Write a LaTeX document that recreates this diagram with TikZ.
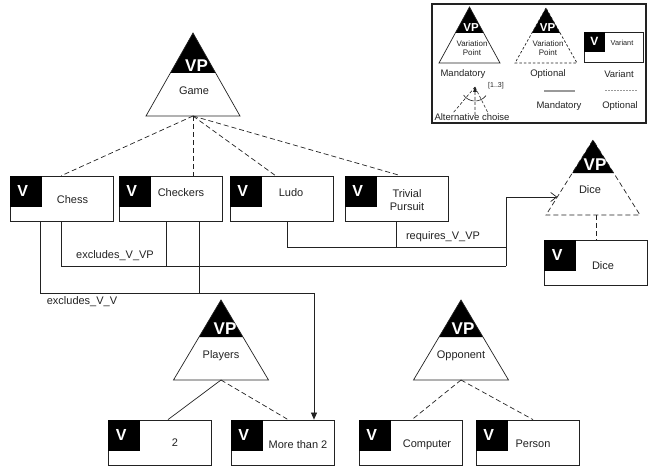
\documentclass[tikz,border=0pt]{standalone}
\usepackage{fontspec}
\setmainfont{Liberation Sans}
\usetikzlibrary{arrows.meta,calc}

\definecolor{ink}{HTML}{222222}
\definecolor{legendgray}{HTML}{999999}

% variation point: name, x, apex y, black y, base y, half width, outline style
\newcommand{\vptri}[7]{%
  \pgfmathsetmacro{\vpk}{#6*(#4-#3)/(#5-#3)}%
  \coordinate (#1-top) at (#2,#3);
  \coordinate (#1-bl) at ({#2-#6},#5);
  \coordinate (#1-br) at ({#2+#6},#5);
  \coordinate (#1-base) at (#2,#5);
  \fill[white] (#1-top) -- (#1-bl) -- (#1-br) -- cycle;
  \fill[black] (#1-top) -- ({#2-\vpk},#4) -- ({#2+\vpk},#4) -- cycle;
  \draw[#7] (#1-top) -- (#1-bl) -- (#1-br) -- cycle;
}

% variant: name, centre
\newcommand{\variantbox}[2]{%
  \node[vbox] (#1) at (#2) {};
  \node[vmark] (#1-v) at (#1.north west) {\hspace*{-6pt}V};
}

\begin{document}
\begin{tikzpicture}
  [x=1pt, y=-1pt,
   every node/.style={inner sep=0pt, text=ink},
   lbl/.style={font=\fontsize{11}{13}\selectfont, align=center},
   small/.style={font=\fontsize{9.5}{11}\selectfont},
   tiny/.style={font=\fontsize{8}{9}\selectfont, align=center},
   vp/.style={text=white, font=\bfseries\fontsize{17}{17}\selectfont},
   vpsmall/.style={text=white, font=\bfseries\fontsize{11.5}{11.5}\selectfont},
   vbox/.style={draw=ink, line width=0.8pt, fill=white, minimum width=103pt, minimum height=45pt},
   vmark/.style={fill=black, text=white, anchor=north west, minimum width=32pt, minimum height=31pt,
                 font=\bfseries\fontsize{16}{16}\selectfont},
   rel/.style={draw=ink, line width=0.7pt},
   opt/.style={draw=ink, line width=0.7pt, dash pattern=on 5pt off 3pt}]

  \useasboundingbox (0,0) rectangle (650,468);

  % legend
  \node[draw=ink, line width=1.2pt, minimum width=214pt, minimum height=119pt] (legend) at (539,63.5) {};
  \vptri{lman}{469.5}{7}{33}{63}{30.5}{rel}
  \vptri{lopt}{546}{8}{33}{63}{31}{draw=ink, line width=0.7pt, dash pattern=on 2.5pt off 2pt}
  \node[vpsmall] (lman-vp) at (471,28) {VP};
  \node[tiny] (lman-t) at (472,48) {Variation\\Point};
  \node[vpsmall] (lopt-vp) at (547.5,28) {VP};
  \node[tiny] (lopt-t) at (548,48) {Variation\\Point};
  \node[draw=ink, line width=0.8pt, fill=white, minimum width=59pt, minimum height=30pt] (lvar) at (613.5,47) {};
  \node[fill=black, text=white, anchor=north west, minimum width=21pt, minimum height=20pt,
        font=\bfseries\fontsize{12}{12}\selectfont] (lvar-v) at (lvar.north west) {V};
  \node[font=\fontsize{7.3}{8}\selectfont] (lvar-t) at (622,43) {Variant};
  \node[small] (lman-l) at (463,74) {Mandatory};
  \node[small] (lopt-l) at (548,74) {Optional};
  \node[small] (lvar-l) at (619,74) {Variant};
  \coordinate (alt) at (475,87);
  \coordinate (alt1) at (453,113);
  \coordinate (alt2) at (475,115);
  \coordinate (alt3) at (488,113);
  \draw[ink, line width=0.6pt, dash pattern=on 3pt off 2pt] (alt) -- (alt1) (alt) -- (alt2) (alt) -- (alt3);
  \draw[ink, line width=0.6pt] (alt) ++(38:14) arc (38:145:14);
  \fill[ink] (alt) -- ++(-2,5) -- ++(4,0) -- cycle;
  \node[font=\fontsize{7}{8}\selectfont] (alt-n) at (496,86) {[1..3]};
  \node[small] (alt-l) at (472,117) {Alternative choise};
  \coordinate (lm1) at (544,91);
  \coordinate (lm2) at (575,91);
  \draw[legendgray, line width=1.4pt] (lm1) -- (lm2);
  \coordinate (lo1) at (605,91);
  \coordinate (lo2) at (638,91);
  \draw[legendgray, line width=1pt, dash pattern=on 1.5pt off 1.5pt] (lo1) -- (lo2);
  \node[small] (lline-m) at (559,106) {Mandatory};
  \node[small] (lline-o) at (620,106) {Optional};

  % variation points
  \vptri{game}{193}{33}{73}{116}{47}{rel}
  \node[vp] (game-vp) at (196.5,65.5) {VP};
  \node[lbl] (game) at (194,91) {Game};

  \vptri{dicevp}{593}{140}{173}{215}{47}{opt}
  \node[vp] (dicevp-vp) at (595,164.5) {VP};
  \node[lbl] (dicevp) at (590,190) {Dice};

  \vptri{players}{221}{300}{337}{380}{47.5}{rel}
  \node[vp] (players-vp) at (225,329) {VP};
  \node[lbl] (players) at (221,356) {Players};

  \vptri{opp}{461}{300}{337}{380}{47.5}{rel}
  \node[vp] (opp-vp) at (463,329) {VP};
  \node[lbl] (opp) at (461,356) {Opponent};

  % variants
  \variantbox{chess}{61.5,198.5}
  \node[lbl] (chess-t) at (72.5,200) {Chess};
  \variantbox{checkers}{170.5,198.5}
  \node[lbl] (checkers-t) at (181,193) {Checkers};
  \variantbox{ludo}{281.5,198.5}
  \node[lbl] (ludo-t) at (291,193) {Ludo};
  \variantbox{trivial}{396.5,198.5}
  \node[lbl] (trivial-t) at (407,200) {Trivial\\Pursuit};
  \variantbox{dice}{596,262.5}
  \node[lbl] (dice-t) at (603,266) {Dice};
  \variantbox{two}{160,442.5}
  \node[lbl] (two-t) at (175,443) {2};
  \variantbox{more}{282.5,442.5}
  \node[lbl] (more-t) at (298,445) {More than 2};
  \variantbox{computer}{410.5,442.5}
  \node[lbl] (computer-t) at (427,445) {Computer};
  \variantbox{person}{527.5,442.5}
  \node[lbl] (person-t) at (533,444) {Person};

  % tree links
  \draw[opt] (game-base) -- (chess.north);
  \draw[opt] (game-base) -- (game-base |- checkers.north);
  \draw[opt] (game-base) -- ([xshift=-6pt]ludo.north);
  \draw[opt] (game-base) -- ([xshift=4pt]trivial.north);
  \draw[opt] (dicevp-base -| dice.north) -- (dice.north);
  \draw[rel] (players-base) -- ([xshift=8pt]two.north);
  \draw[opt] (players-base) -- ([xshift=5.5pt]more.north);
  \draw[opt] (opp-base) -- ([xshift=1.5pt]computer.north);
  \draw[opt] (opp-base) -- ([xshift=5.5pt]person.north);

  % constraints
  \coordinate (req) at (506,247);
  \coordinate (xvp) at (506,266);
  \coordinate (xvv) at (314,293);
  \coordinate (dicevp-in) at ($(dicevp-top)!0.76!(dicevp-bl)$);
  \draw[rel] ([xshift=5.5pt]ludo.south) |- (req);
  \draw[rel] (trivial.south) |- (req);
  \draw[rel] (chess.south) |- (xvp);
  \draw[rel] ([xshift=-4.5pt]checkers.south) |- (xvp);
  \draw[rel, -{Straight Barb[length=6pt,width=9pt]}] (xvp) |- (dicevp-in);
  \draw[rel] ([xshift=28.5pt]checkers.south) |- (xvv);
  \draw[rel, -{Triangle[length=7pt,width=6pt]}] ([xshift=-21.5pt]chess.south) |- (xvv) -- (xvv |- more.north);
  \node[lbl] (req-l) at (443,237) {requires\_V\_VP};
  \node[lbl] (xvp-l) at (115,256) {excludes\_V\_VP};
  \node[lbl] (xvv-l) at (82,302) {excludes\_V\_V};
\end{tikzpicture}
\end{document}
